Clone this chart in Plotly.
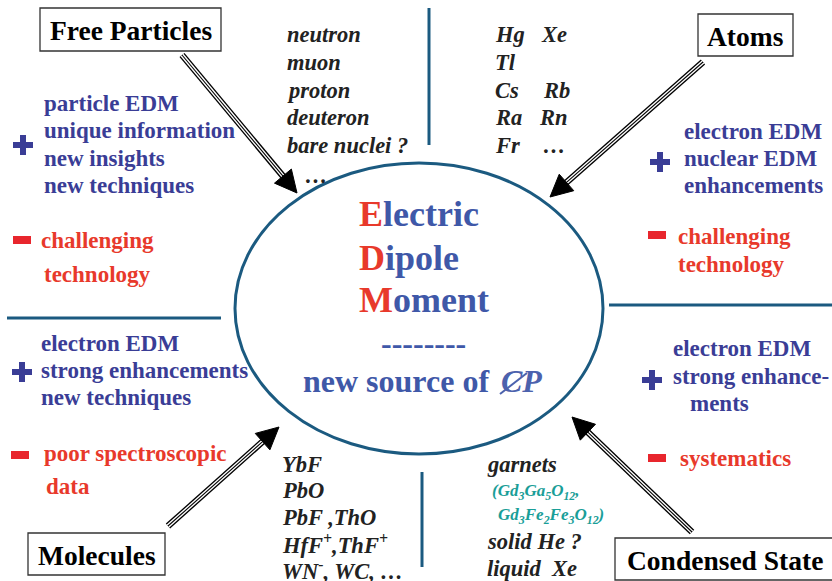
import numpy as np
import plotly.graph_objects as go

W, H = 832, 581
SERIF = "Liberation Serif"
BLUE = "#3a3d96"
CBLUE = "#3f58a8"
RED = "#e8392b"
TEAL = "#1a9e98"
LINE = "#1b5a80"
DARK = "#222222"

# ---------------- content ----------------
box_titles = ["Free Particles", "Atoms", "Molecules", "Condensed State"]

fp_pros = ["particle EDM", "unique information", "new insights", "new techniques"]
fp_cons = ["challenging", "technology"]
atom_pros = ["electron EDM", "nuclear EDM", "enhancements"]
atom_cons = ["challenging", "technology"]
mol_pros = ["electron EDM", "strong enhancements", "new techniques"]
mol_cons = ["poor spectroscopic", "data"]
cs_pros = ["electron EDM", "strong enhance-", "ments"]
cs_cons = ["systematics"]

particles = ["neutron", "muon", "proton", "deuteron", "bare nuclei ?", "…"]
atoms_c1 = ["Hg", "Tl", "Cs", "Ra", "Fr"]
atoms_c2 = ["Xe", "", "Rb", "Rn", "…"]
molecules = ["YbF", "PbO", "PbF ,ThO", "HfF<sup>+</sup>,ThF<sup>+</sup>",
             "WN<sup>-</sup>, WC, …"]
condensed = ["garnets", "solid He ?", "liquid  Xe"]
garnet_formulas = ["(Gd<sub>3</sub>Ga<sub>5</sub>O<sub>12</sub>,",
                   "Gd<sub>3</sub>Fe<sub>2</sub>Fe<sub>3</sub>O<sub>12</sub>)"]

center_words = ["Electric", "Dipole", "Moment"]
center_sub = "new source of "

# ---------------- layout geometry ----------------
fig = go.Figure()
shapes = []
ann = []


def text(x, y, s, size, color, bold=True, italic=False, xanchor="left"):
    t = s
    if italic:
        t = "<i>" + t + "</i>"
    if bold:
        t = "<b>" + t + "</b>"
    ann.append(dict(x=x, y=y, text=t, showarrow=False, xanchor=xanchor,
                    yanchor="middle", font=dict(family=SERIF, size=size, color=color)))


def block(x, ys, lines, size, color, italic=False, xs=None):
    for i, (y, s) in enumerate(zip(ys, lines)):
        if s:
            text(x if xs is None else xs[i], y, s, size, color, italic=italic)


def plus(cx, cy, color=BLUE, a=10, t=3):
    shapes.append(dict(type="rect", x0=cx - a, x1=cx + a, y0=cy - t, y1=cy + t,
                       fillcolor=color, line=dict(width=0)))
    shapes.append(dict(type="rect", x0=cx - t, x1=cx + t, y0=cy - a, y1=cy + a,
                       fillcolor=color, line=dict(width=0)))


def minus(cx, cy, color="#e8262d", a=9, t=4):
    shapes.append(dict(type="rect", x0=cx - a, x1=cx + a, y0=cy - t, y1=cy + t,
                       fillcolor=color, line=dict(width=0)))


def seg(x0, y0, x1, y1, color, width):
    shapes.append(dict(type="line", x0=x0, y0=y0, x1=x1, y1=y1,
                       line=dict(color=color, width=width)))


def arrow(x0, y0, x1, y1, hl=22, hw=11):
    p0 = np.array([x0, y0], float)
    p1 = np.array([x1, y1], float)
    u = (p1 - p0) / np.linalg.norm(p1 - p0)
    n = np.array([-u[1], u[0]])
    base = p1 - u * hl
    end = base + u * 3
    seg(*p0, *end, "black", 6.5)
    seg(*p0, *end, "white", 3.8)
    seg(*p0, *end, "black", 1.1)
    a = base + n * hw
    b = base - n * hw
    path = f"M {p1[0]},{p1[1]} L {a[0]},{a[1]} L {b[0]},{b[1]} Z"
    shapes.append(dict(type="path", path=path, fillcolor="black",
                       line=dict(color="black", width=1)))


def box(x0, y0, x1, y1, label):
    shapes.append(dict(type="rect", x0=x0, x1=x1, y0=y0, y1=y1,
                       line=dict(color="#333333", width=1.3), fillcolor="white"))
    text((x0 + x1) / 2, (y0 + y1) / 2 + 1, label, 27.5, "black", xanchor="center")


# separator lines
seg(429, 8, 429, 145, LINE, 3)
seg(422, 472, 422, 567, LINE, 3)
seg(7, 318, 221, 318, LINE, 3)
seg(609, 305, 832, 305, LINE, 3)

# central ellipse
shapes.append(dict(type="circle", x0=235, x1=603, y0=163, y1=454,
                   line=dict(color=LINE, width=3)))

# arrows
arrow(182, 55, 297, 193)
arrow(703, 62, 550, 197)
arrow(168, 526, 279, 427)
arrow(692, 532, 572, 417)

# boxes
box(40, 8, 221, 51, box_titles[0])
box(698, 14, 793, 56, box_titles[1])
box(28, 533, 165, 575, box_titles[2])
box(615, 538, 834, 580, box_titles[3])

# free particles pros/cons
block(42, [103, 130, 158, 185], fp_pros, 23, BLUE)
plus(23, 145)
block(39, [240, 274], fp_cons, 23, RED, xs=[39, 42])
minus(22, 240)

# atoms pros/cons
block(682, [131, 158, 185], atom_pros, 23, BLUE)
plus(660, 162)
block(676, [236, 264], atom_cons, 23, RED)
minus(657, 235)

# molecules pros/cons
block(39, [343, 370, 397], mol_pros, 23, BLUE)
plus(22, 372)
block(42, [453, 486], mol_cons, 23, RED, xs=[42, 44])
minus(20, 455)

# condensed pros/cons
block(671, [348, 376, 403], cs_pros, 23, BLUE, xs=[671, 671, 688])
plus(652, 380)
block(678, [458], cs_cons, 23, RED)
minus(657, 458)

# examples
block(285, [34, 62, 90, 117, 145, 175], particles, 22.5, DARK, italic=True,
      xs=[285, 285, 285, 285, 285, 303])
block(493, [34, 62, 90, 117, 145], atoms_c1, 22.5, DARK, italic=True)
block(539, [34, 62, 90, 117, 145], atoms_c2, 22.5, DARK, italic=True,
      xs=[539, 539, 541, 537, 541])
block(280, [464, 490, 517, 544, 570], molecules, 22.5, DARK, italic=True)
block(485, [464, 541, 568], condensed, 22.5, DARK, italic=True)
block(490, [492, 516], garnet_formulas, 17, TEAL, italic=True, xs=[490, 496])

# centre text
for y, w in zip([214, 258, 300], center_words):
    text(357, y, f"<span style='color:{RED}'>{w[0]}</span>{w[1:]}", 36, CBLUE)
text(423, 343, "--------", 32, CBLUE, xanchor="center")
text(301, 381, center_sub, 32, CBLUE)
text(499, 381, "<i>CP</i>", 32, "#4c62ad")
seg(500, 394, 527, 373, "#4c62ad", 2)

fig.update_layout(
    width=W, height=H, margin=dict(l=0, r=0, t=0, b=0),
    paper_bgcolor="white", plot_bgcolor="white",
    xaxis=dict(range=[0, W], visible=False, fixedrange=True),
    yaxis=dict(range=[H, 0], visible=False, fixedrange=True),
    shapes=shapes, annotations=ann, showlegend=False,
)
fig.write_html("out.html", config={"displayModeBar": False},
               post_script="document.body.style.margin='0px';document.body.style.overflow='hidden';")
